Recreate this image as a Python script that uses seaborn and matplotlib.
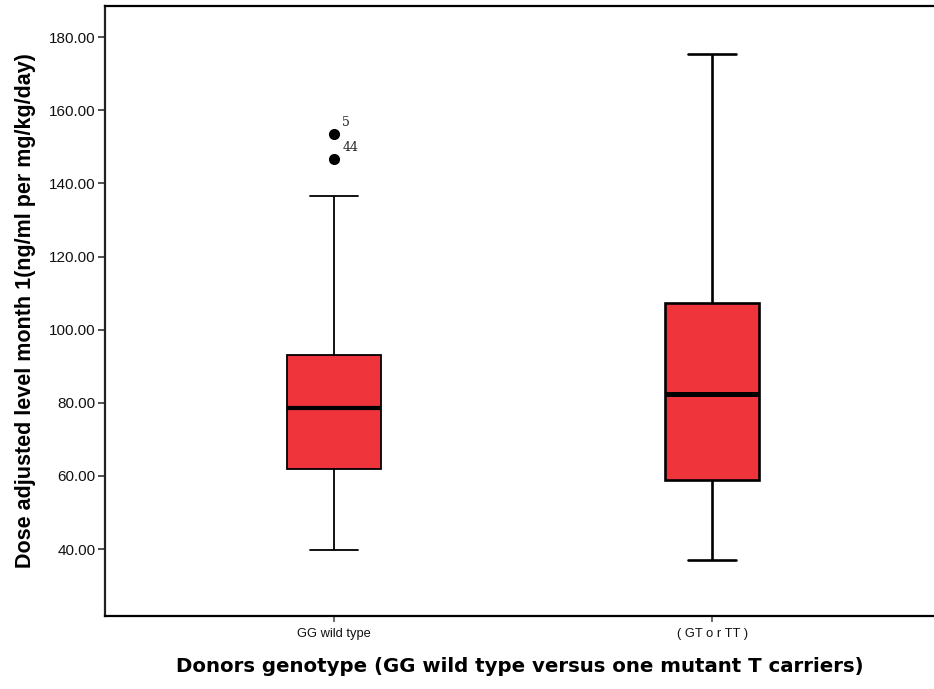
import matplotlib
matplotlib.use("Agg")
import matplotlib.pyplot as plt
from matplotlib.ticker import FormatStrFormatter
import numpy as np
import pandas as pd
import seaborn as sns

# values (box stats: whiskers, quartiles, median, outliers)
genotypes = ["GG wild type", "( GT o r TT )"]
level_gg = [39.7, 50.2, 57.4, 61.9, 66.8, 72.5, 78.6, 83.1, 88.4, 93.0, 136.5, 146.6, 153.5]
level_gt = [37.0, 48.5, 58.9, 70.3, 82.4, 94.6, 107.3, 131.8, 175.4]
outlier_ids = ["5", "44"]
outlier_vals = [153.5, 146.6]
yticks = [40, 60, 80, 100, 120, 140, 160, 180]

box_red = "#EF343B"

df = pd.DataFrame(
    {
        "genotype": [genotypes[0]] * len(level_gg) + [genotypes[1]] * len(level_gt),
        "level": level_gg + level_gt,
    }
)

sns.set_style("white")
plt.rcParams["font.family"] = ["Liberation Sans", "DejaVu Sans"]

fig = plt.figure(figsize=(9.34, 6.89), dpi=100)
ax = fig.add_axes([105 / 934, 1 - 616 / 689, 1 - 105 / 934, 610 / 689])

# the reference draws the second box with heavier lines, so two calls
for name, lw, med_lw in [(genotypes[0], 1.3, 3.0), (genotypes[1], 1.9, 3.6)]:
    sns.boxplot(
        data=df[df.genotype == name],
        x="genotype",
        y="level",
        order=genotypes,
        width=0.25,
        color=box_red,
        saturation=1,
        linecolor="black",
        linewidth=lw,
        whis=1.5,
        flierprops=dict(marker="o", markersize=7, markerfacecolor="black",
                        markeredgecolor="black"),
        medianprops=dict(color="black", linewidth=med_lw),
        ax=ax,
    )

# case labels next to the outliers
ax.annotate(outlier_ids[0], (0, outlier_vals[0]), xytext=(6, 6),
            textcoords="offset points", fontsize=9, family="DejaVu Serif")
ax.annotate(outlier_ids[1], (0, outlier_vals[0]), xytext=(6, -12),
            textcoords="offset points", fontsize=9, family="DejaVu Serif")

ax.set_xlim(-0.606, 1.587)
ax.set_ylim(21.7, 188.5)
ax.set_yticks(yticks)
ax.yaxis.set_major_formatter(FormatStrFormatter("%.2f"))

for side in ["left", "top", "bottom"]:
    ax.spines[side].set_visible(True)
    ax.spines[side].set_color("black")
    ax.spines[side].set_linewidth(1.6)
ax.spines["left"].set_color("#222222")
ax.spines["right"].set_visible(False)

ax.tick_params(axis="y", direction="out", length=5, width=1.2, color="#333333",
               labelsize=11, pad=2, left=True, labelcolor="#111111")
ax.tick_params(axis="x", direction="out", length=4, width=1.2, color="#555555",
               labelsize=9.3, pad=5, bottom=True, labelcolor="#111111")

ax.set_ylabel("Dose adjusted level month 1(ng/ml per mg/kg/day)",
              fontsize=15.5, fontweight="bold", labelpad=9, color="black")
ax.set_xlabel("Donors genotype (GG wild type versus one mutant T carriers)",
              fontsize=14.2, fontweight="bold", labelpad=12, color="black",
              family="DejaVu Sans")

fig.savefig("out.png", dpi=100)
